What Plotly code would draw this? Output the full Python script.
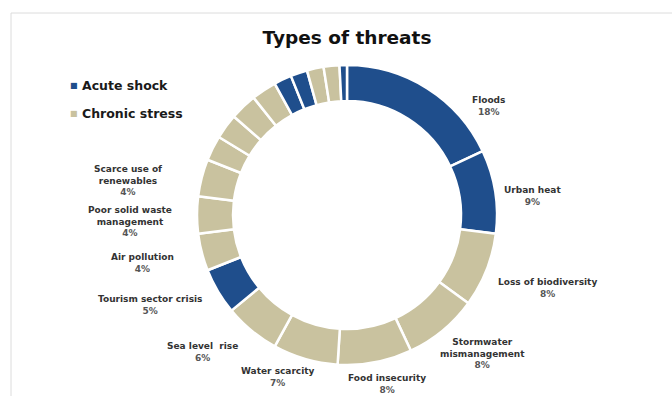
import plotly.graph_objects as go

# Threat categories, clockwise from 12 o'clock
threats = [
    "Floods", "Urban heat", "Loss of biodiversity", "Stormwater<br>mismanagement",
    "Food insecurity", "Water scarcity", "Sea level  rise", "Tourism sector crisis",
    "Air pollution", "Poor solid waste<br>management", "Scarce use of<br>renewables",
    "Other stress A", "Other stress B", "Other stress C", "Other stress D",
    "Other shock A", "Other shock B", "Other stress E", "Other stress F", "Other shock C",
]
shares = [18, 9, 8, 8, 8, 7, 6, 5, 4, 4, 4,
          2.7, 2.7, 2.9, 2.7, 1.9, 1.8, 1.8, 1.7, 0.8]
threat_type = ["Acute", "Acute", "Chronic", "Chronic", "Chronic", "Chronic", "Chronic",
               "Acute", "Chronic", "Chronic", "Chronic",
               "Chronic", "Chronic", "Chronic", "Chronic",
               "Acute", "Acute", "Chronic", "Chronic", "Acute"]
labelled = [True] * 11 + [False] * 9

legend_names = ["Acute shock", "Chronic stress"]

BLUE = "#1f4e8c"
BEIGE = "#c9c29f"
TEXT = "#333333"
PCT = "#555555"
colors = [BLUE if t == "Acute" else BEIGE for t in threat_type]

W, H = 672, 396
CX, CY, R = 347, 215, 150  # donut centre and outer radius in pixels

# Label anchor points (pixels) for the labelled slices
label_pos = [(488, 106), (532, 196), (547, 288), (482, 353), (387, 384),
             (278, 377), (202, 352), (150, 305), (142, 263), (130, 221), (128, 180)]

fig = go.Figure()
fig.add_trace(go.Pie(
    labels=threats,
    values=shares,
    sort=False,
    direction="clockwise",
    rotation=0,
    hole=0.76,
    marker=dict(colors=colors, line=dict(color="white", width=2.5)),
    textinfo="none",
    hoverinfo="label+percent",
    showlegend=False,
    domain=dict(x=[(CX - R) / W, (CX + R) / W],
                y=[(H - CY - R) / H, (H - CY + R) / H]),
))

annotations = []
k = 0
for name, val, show in zip(threats, shares, labelled):
    if not show:
        continue
    px, py = label_pos[k]
    k += 1
    annotations.append(dict(
        x=px / W, y=1 - py / H, xref="paper", yref="paper",
        text=f"<b>{name}</b><br><span style='color:{PCT}'><b>{val:g}%</b></span>",
        showarrow=False, xanchor="center", yanchor="middle", align="center",
        font=dict(family="DejaVu Sans", size=9, color=TEXT),
    ))

# Legend: coloured squares with bold captions
for i, (name, col) in enumerate(zip(legend_names, [BLUE, BEIGE])):
    y = 1 - (86 + 28 * i) / H
    annotations.append(dict(
        x=74 / W, y=y, xref="paper", yref="paper", text="■", showarrow=False,
        xanchor="center", yanchor="middle",
        font=dict(family="DejaVu Sans", size=8, color=col),
    ))
    annotations.append(dict(
        x=80 / W, y=y, xref="paper", yref="paper", text=f"<b>{name}</b>", showarrow=False,
        xanchor="left", yanchor="middle",
        font=dict(family="DejaVu Sans", size=12.5, color="#1a1a1a"),
    ))

fig.update_layout(
    width=W, height=H,
    margin=dict(l=0, r=0, t=0, b=0),
    paper_bgcolor="white",
    plot_bgcolor="white",
    title=dict(text="<b>Types of threats</b>", x=CX / W, xanchor="center",
               y=1 - 38 / H, yanchor="middle",
               font=dict(family="DejaVu Sans", size=18.5, color="#111111")),
    annotations=annotations,
    shapes=[dict(type="rect", xref="paper", yref="paper",
                 x0=11 / W, x1=1.02, y0=-0.02, y1=1 - 13 / H,
                 line=dict(color="#dcdcdc", width=1), fillcolor="rgba(0,0,0,0)",
                 layer="below")],
)

fig.write_html("out.html")
